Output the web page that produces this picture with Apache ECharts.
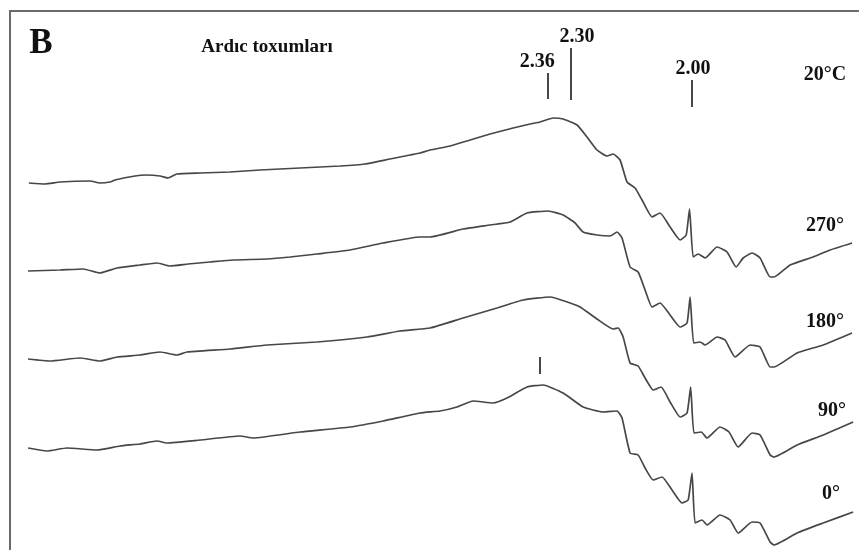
<!DOCTYPE html>
<html><head><meta charset="utf-8">
<script src="https://cdn.jsdelivr.net/npm/echarts@6/dist/echarts.min.js"></script>
<style>html,body{margin:0;padding:0;background:#fff}#c{width:859px;height:550px}</style>
</head><body><div id="c"></div><script>
// Spectra (field in mT, signal in a.u. relative to each trace's start)
const seriesNames = ['270°', '180°', '90°', '0°'];

const field270 = [100.7,106.5,111.9,122.7,126.3,129.9,131.7,138.9,142.9,147.9,150.8,154.0,162.3,173.1,183.9,198.3,212.7,221.7,230.7,237.9,241.5,245.1,252.3,259.5,266.7,275.0,281.1,284.7,289.4,293.0,298.0,301.6,305.2,308.8,311.0,313.5,316.0,318.9,321.4,325.0,327.9,331.5,335.1,337.3,338.5,339.8,341.6,344.1,348.4,352.0,355.3,357.8,361.0,363.9,367.5,368.9,374.7,383.0,389.1,397.0];
const signal270 = [0,-1,1,2,0,1,3,7,8,7,5,9,10,11,13,15,17,19,24,28,30,33,37,43,49,55,59,61,65,64,58,46,33,27,29,23,1,-5,-17,-34,-30,-44,-57,-52,-26,-74,-71,-75,-64,-69,-84,-75,-70,-75,-94,-94,-82,-74,-67,-60];

const field180 = [100.4,111.9,120.2,126.3,132.4,140.7,146.8,151.5,158.0,165.9,174.2,186.4,194.7,204.4,216.3,228.2,241.5,245.1,257.0,266.7,273.9,280.0,287.6,293.0,297.3,300.2,305.2,309.9,312.4,314.2,317.1,320.0,322.5,325.0,327.9,331.5,335.1,337.6,338.7,340.0,342.3,344.1,348.4,351.3,354.9,360.3,363.9,367.5,368.9,377.2,386.6,397.0];
const signal180 = [0,1,2,-2,3,6,8,5,7,9,11,12,14,17,21,28,34,34,42,46,49,58,60,56,48,39,36,35,39,33,4,-1,-19,-36,-32,-44,-56,-52,-26,-72,-71,-74,-66,-69,-86,-74,-76,-96,-96,-82,-74,-62];

const field90 = [100.4,108.3,119.1,126.3,132.4,140.7,147.9,154.0,157.6,173.1,186.4,204.4,222.4,234.3,245.1,257.0,269.2,278.6,288.3,295.5,299.1,305.2,311.0,312.8,314.6,317.1,320.0,322.5,325.4,328.3,331.5,335.1,337.6,338.9,340.1,342.7,344.8,349.5,352.7,356.0,361.0,363.9,367.5,368.9,377.2,386.6,397.4];
const signal90 = [0,-2,1,-2,2,4,7,4,7,10,14,17,22,28,31,41,51,59,62,56,52,40,30,31,22,-4,-7,-19,-31,-28,-43,-58,-54,-28,-74,-73,-79,-68,-73,-88,-74,-76,-96,-98,-86,-76,-63];

const field0 = [100.4,107.2,114.4,125.2,133.5,140.7,146.8,150.4,162.3,176.7,181.4,198.3,216.3,228.2,241.5,248.7,254.8,260.6,267.8,272.8,280.0,285.8,293.0,300.2,307.4,312.4,314.2,317.1,320.0,322.5,325.4,328.6,332.2,335.8,338.0,339.4,340.5,343.0,344.8,349.5,353.1,356.0,361.0,363.9,367.5,368.9,377.2,386.6,397.4];
const signal0 = [0,-3,0,-2,2,4,7,5,8,12,10,16,21,27,35,37,41,47,45,50,61,63,55,41,36,37,30,-5,-7,-20,-32,-29,-42,-55,-52,-25,-75,-72,-77,-67,-72,-85,-74,-75,-94,-97,-85,-75,-64];

// g-value markers
const gLabels = ['2.36', '2.30', '2.00'];
const gField = [287.3, 295.8, 339.4];

// ---- layout (not data) ----
const traceOffset = [0, -88, -176, -265];
const markerSpan = [[84, 110], [83, 135], [76, 103]];
const markerLabelOffset = [[-10, 4], [6, 4], [1, 4]];
const extraMarker = {x: 284.7, y1: -191, y2: -174};

const fields = [field270, field180, field90, field0];
const signals = [signal270, signal180, signal90, signal0];

const font = "'Liberation Serif', 'Times New Roman', serif";
const lineColor = '#474747';

const series = seriesNames.map((name, k) => ({
  name: name,
  type: 'line',
  data: fields[k].map((x, i) => [x, signals[k][i] + traceOffset[k]]),
  showSymbol: false,
  symbol: 'none',
  smooth: 0.15,
  lineStyle: {color: lineColor, width: 1.7},
  silent: true,
  animation: false
}));

series[0].markLine = {
  silent: true,
  symbol: ['none', 'none'],
  animation: false,
  lineStyle: {color: '#333', width: 1.8, type: 'solid'},
  data: gLabels.map((g, i) => {
    const lab = {show: true, position: 'end', formatter: g, distance: 5, offset: markerLabelOffset[i],
      fontFamily: font, fontWeight: 'bold', fontSize: 20, color: '#111'};
    return [
      {coord: [gField[i], markerSpan[i][0]], label: lab},
      {coord: [gField[i], markerSpan[i][1]], label: lab}
    ];
  })
};
series[3].markLine = {
  silent: true,
  symbol: ['none', 'none'],
  animation: false,
  lineStyle: {color: '#333', width: 1.8, type: 'solid'},
  label: {show: false},
  data: [[{coord: [extraMarker.x, extraMarker.y1]}, {coord: [extraMarker.x, extraMarker.y2]}]]
};

const textEl = (t, x, y, size) => ({
  type: 'text', x: x, y: y, silent: true,
  style: {text: t, fontFamily: font, fontWeight: 'bold', fontSize: size, fill: '#111',
    align: 'center', verticalAlign: 'middle'}
});

const labelPos = [[825, 226], [825, 322], [832, 411], [831, 494]];

const chart = echarts.init(document.getElementById('c'), null, {renderer: 'canvas'});
chart.setOption({
  backgroundColor: '#fff',
  animation: false,
  grid: {left: 0, right: 0, top: 0, bottom: 0},
  xAxis: {type: 'value', min: 90.3, max: 399.5, show: false},
  yAxis: {type: 'value', min: -367, max: 183, show: false},
  series: series,
  graphic: [
    {type: 'polyline', silent: true, shape: {points: [[10, 550], [10, 11], [859, 11]]},
      style: {stroke: '#6a6a6a', lineWidth: 2, fill: null}},
    textEl('B', 41, 44, 35),
    textEl('Ardıc toxumları', 267, 47, 19),
    textEl('20°C', 825, 75, 20)
  ].concat(seriesNames.map((n, k) => textEl(n, labelPos[k][0], labelPos[k][1], 20)))
});
</script></body></html>
